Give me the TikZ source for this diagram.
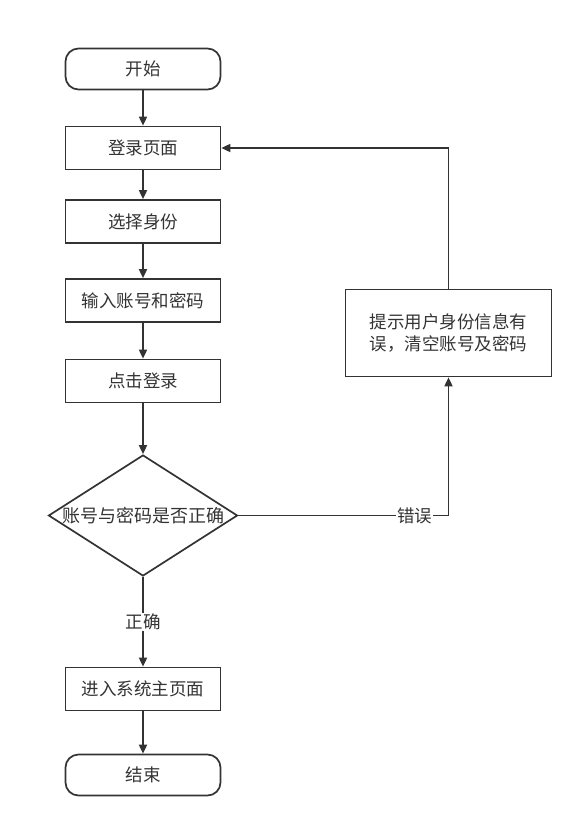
\documentclass[tikz,border=0pt]{standalone}
\usepackage{fontspec}
\newfontfamily\cjk{Noto Sans CJK SC}
\usetikzlibrary{positioning,arrows.meta,shapes.geometric}
\definecolor{ink}{HTML}{333333}
\tikzset{
  >={Triangle[length=9pt,width=8pt]},
  every node/.style={font=\cjk\fontsize{17.5}{22}\selectfont, text=ink},
  terminal/.style={draw=ink, line width=1.7pt, rounded corners=13pt,
    minimum width=155pt, minimum height=41pt, inner sep=0pt},
  process/.style={draw=ink, line width=1.7pt,
    minimum width=155pt, minimum height=43pt, inner sep=0pt},
  decision/.style={draw=ink, line width=1.7pt, diamond, aspect=1.56,
    minimum width=189pt, minimum height=121pt, inner sep=0pt},
  flow/.style={->, draw=ink, line width=1.7pt},
  edgelabel/.style={fill=white, inner sep=1pt},
}

\begin{document}
\begin{tikzpicture}[x=1pt, y=-1pt, node distance=36pt]
    \useasboundingbox (0,0) rectangle (584,828);
    \node[terminal] (start) at (143,69) {开始};
    \node[process] (login) [below=35.3pt of start] {登录页面};
    \node[process] (role) [below=28.8pt of login] {选择身份};
    \node[process] (input) [below=34.3pt of role] {输入账号和密码};
    \node[process] (click) [below=35.8pt of input] {点击登录};
    \node[decision, label={[font=\cjk\fontsize{18}{22}\selectfont]center:账号与密码是否正确}]
      (check) [below=50.8pt of click] {};
    \node[process] (home) [below=89.8pt of check] {进入系统主页面};
    \node[terminal] (end) [below=42.3pt of home] {结束};
    \node[process, minimum width=206pt, minimum height=87pt, align=center]
      (hint) at (448.5,333) {提示用户身份信息有\\误，清空账号及密码};

    \draw[flow] (start) -- (login);
    \draw[flow] (login) -- (role);
    \draw[flow] (role) -- (input);
    \draw[flow] (input) -- (click);
    \draw[flow] (click) -- (check);
    \draw[flow] (check) -- node[edgelabel] {正确} (home);
    \draw[flow] (home) -- (end);
    \draw[flow] (check.east) -| node[edgelabel, pos=0.42] {错误} (hint.south);
    \draw[flow] (hint.north) |- (login.east);
  \end{tikzpicture}
\end{document}
